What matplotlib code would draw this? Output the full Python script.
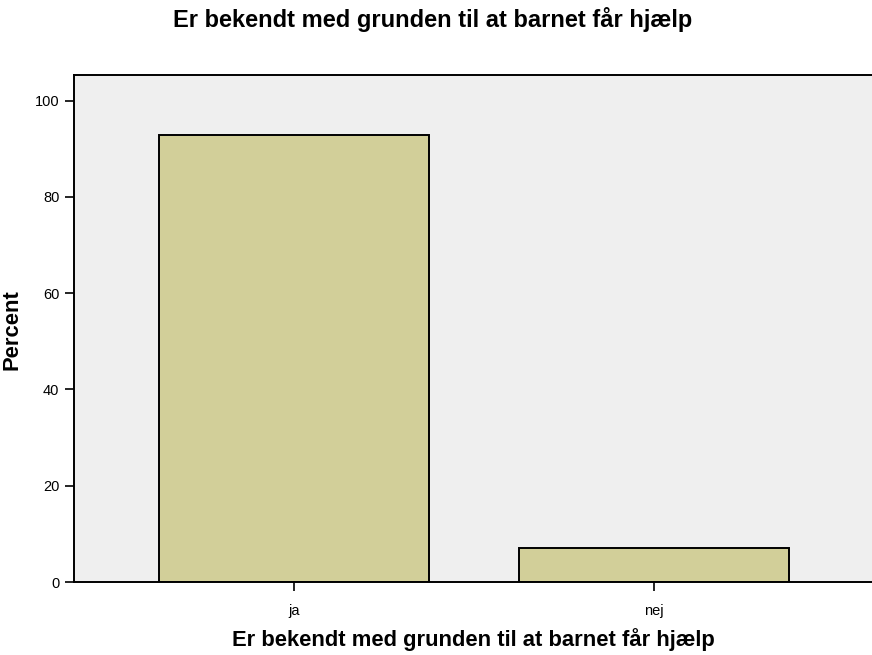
import matplotlib.pyplot as plt

plt.rcParams['font.family'] = ['Liberation Sans', 'DejaVu Sans']

categories = ['ja', 'nej']
percent = [92.8, 7.1]
title = 'Er bekendt med grunden til at barnet får hjælp'

fig = plt.figure(figsize=(8.72, 6.55), dpi=100)
ax = fig.add_axes([74 / 872, 1 - 582 / 655, (872 - 74) / 872, (582 - 75) / 655])
ax.set_facecolor('#efefef')

x = range(len(categories))
ax.bar(x, percent, width=0.75, color='#d2cf99', edgecolor='black', linewidth=1.4)

ax.set_xlim(-0.611, 1.606)
ax.set_ylim(0, 105.3)
ax.set_yticks([0, 20, 40, 60, 80, 100])
ax.set_xticks(list(x))
ax.set_xticklabels(categories)
ax.tick_params(direction='out', length=6.5, width=1.2, labelsize=10.5, pad=4)
ax.tick_params(axis='x', pad=9)

for side in ['left', 'bottom', 'top']:
    ax.spines[side].set_linewidth(1.4)
ax.spines['right'].set_visible(False)

ax.set_xlabel(title, fontsize=15.8, fontweight='bold', va='center')
ax.xaxis.set_label_coords(0.5, (582 - 640) / 507)
ax.set_ylabel('Percent', fontsize=15.8, fontweight='bold', va='center')
ax.yaxis.set_label_coords((12 - 74) / 798, (582 - 330) / 507)
fig.text(433 / 872, 1 - 20 / 655, title, ha='center', va='center', fontsize=17, fontweight='bold')

fig.savefig('out.png', dpi=100)
